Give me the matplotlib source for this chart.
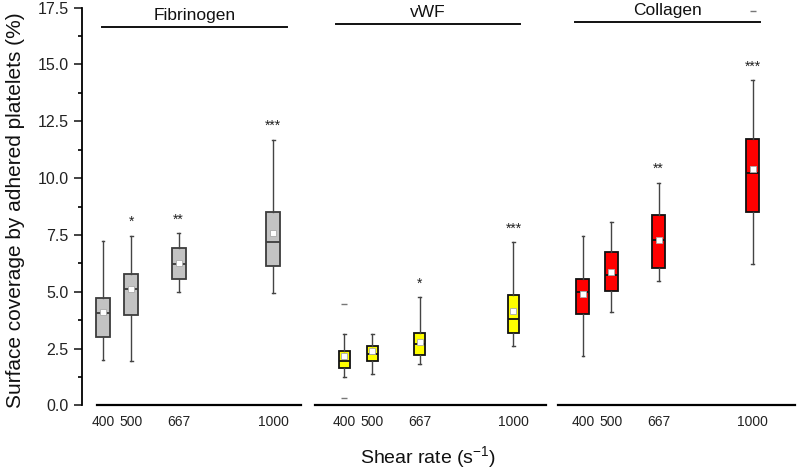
import matplotlib
matplotlib.use("Agg")
import matplotlib.pyplot as plt

plt.rcParams['font.family'] = ['Liberation Sans', 'DejaVu Sans']
plt.rcParams['mathtext.default'] = 'regular'

# data
shear = [400, 500, 667, 1000]
panels = ["Fibrinogen", "vWF", "Collagen"]

# whisker low, q1, median, q3, whisker high, mean
fib_lo = [1.99, 1.96, 4.99, 4.95]
fib_q1 = [3.01, 3.97, 5.55, 6.13]
fib_med = [4.08, 5.11, 6.24, 7.18]
fib_q3 = [4.74, 5.78, 6.94, 8.52]
fib_hi = [7.23, 7.45, 7.57, 11.67]
fib_mean = [4.10, 5.12, 6.25, 7.57]
fib_out = [[], [], [], []]
fib_stars = ["", "*", "**", "***"]

vwf_lo = [1.24, 1.39, 1.82, 2.63]
vwf_q1 = [1.66, 1.97, 2.21, 3.20]
vwf_med = [1.94, 2.28, 2.69, 3.80]
vwf_q3 = [2.38, 2.63, 3.20, 4.86]
vwf_hi = [3.13, 3.14, 4.76, 7.18]
vwf_mean = [2.18, 2.40, 2.79, 4.14]
vwf_out = [[0.34, 4.45], [], [], []]
vwf_stars = ["", "", "*", "***"]

col_lo = [2.18, 4.10, 5.46, 6.24]
col_q1 = [4.04, 5.05, 6.05, 8.50]
col_med = [4.98, 5.74, 7.26, 10.22]
col_q3 = [5.55, 6.74, 8.39, 11.70]
col_hi = [7.44, 8.07, 9.80, 14.30]
col_mean = [4.92, 5.87, 7.26, 10.39]
col_out = [[], [], [], [17.35]]
col_stars = ["", "", "**", "***"]

data = [
    (fib_lo, fib_q1, fib_med, fib_q3, fib_hi, fib_mean, fib_out, fib_stars),
    (vwf_lo, vwf_q1, vwf_med, vwf_q3, vwf_hi, vwf_mean, vwf_out, vwf_stars),
    (col_lo, col_q1, col_med, col_q3, col_hi, col_mean, col_out, col_stars),
]

# styling per panel
face = ["#c3c3c3", "#ffff00", "#ff0000"]
edge = ["#3c3c3c", "#111111", "#111111"]
widths = [50, 40, 46]
rects = [[0.1025, 0.1354, 0.274, 0.8486],
         [0.394, 0.1354, 0.289, 0.8486],
         [0.6975, 0.1354, 0.296, 0.8486]]
xlims = [(326, 1099), (297, 1117), (312, 1148)]
bracket_x = [(397, 1050), (371, 1024), (372, 1026)]
bracket_y = [16.64, 16.77, 16.86]

fig = plt.figure(figsize=(8, 4.69), dpi=100)

for i in range(3):
    ax = fig.add_axes(rects[i])
    lo, q1, med, q3, hi, mean, out, stars = data[i]
    stats = []
    for j in range(4):
        stats.append(dict(whislo=lo[j], q1=q1[j], med=med[j], q3=q3[j],
                          whishi=hi[j], mean=mean[j], fliers=out[j]))
    ax.bxp(stats, positions=shear, widths=widths[i], capwidths=10,
           showmeans=True, patch_artist=True, manage_ticks=False,
           boxprops=dict(facecolor=face[i], edgecolor=edge[i], linewidth=1.3),
           medianprops=dict(color=edge[i], linewidth=1.3),
           whiskerprops=dict(color="#444444", linewidth=1.0),
           capprops=dict(color="#444444", linewidth=1.0),
           meanprops=dict(marker="s", markerfacecolor="white",
                          markeredgecolor="#aaaaaa", markersize=4.5,
                          markeredgewidth=0.6),
           flierprops=dict(marker="_", markeredgecolor="#777777",
                           markersize=4, markeredgewidth=1.0))

    for j in range(4):
        if stars[j]:
            ax.text(shear[j], hi[j] + 0.3, stars[j], ha="center", va="bottom",
                    fontsize=10, color="#222222")

    ax.set_xlim(xlims[i])
    ax.set_ylim(0, 17.5)
    ax.set_xticks(shear)
    ax.set_xticklabels([str(s) for s in shear], fontsize=10)
    ax.tick_params(axis="x", length=0, pad=7, colors="#222222")
    ax.spines["top"].set_visible(False)
    ax.spines["right"].set_visible(False)
    ax.spines["bottom"].set_linewidth(1.6)
    ax.patch.set_alpha(0)

    # panel title with bracket line
    x0, x1 = bracket_x[i]
    ax.plot([x0, x1], [bracket_y[i], bracket_y[i]], color="#111111",
            linewidth=1.4, clip_on=False)
    ax.text((x0 + x1) / 2, bracket_y[i] + 0.33, panels[i], ha="center",
            va="baseline", fontsize=12.5, color="#111111")

    if i == 0:
        ax.spines["bottom"].set_bounds(379, 1099)
        ax.spines["left"].set_linewidth(1.3)
        ax.set_yticks([0, 2.5, 5, 7.5, 10, 12.5, 15, 17.5])
        ax.set_yticklabels(["0.0", "2.5", "5.0", "7.5", "10.0", "12.5",
                            "15.0", "17.5"], fontsize=11.5)
        ax.set_yticks([1.25, 3.75, 6.25, 8.75, 11.25, 13.75, 16.25],
                      minor=True)
        ax.tick_params(axis="y", which="major", length=6, width=1.2,
                       colors="#222222")
        ax.tick_params(axis="y", which="minor", length=3, width=1.2)
    else:
        ax.spines["left"].set_visible(False)
        ax.set_yticks([])

fig.text(0.019, 0.552, "Surface coverage by adhered platelets (%)",
         rotation=90, ha="center", va="center", fontsize=15, color="#111111")
fig.text(0.535, 0.026, "Shear rate (s$^{-1}$)", ha="center", va="center",
         fontsize=14, color="#111111")

fig.savefig("out.png", dpi=100)
